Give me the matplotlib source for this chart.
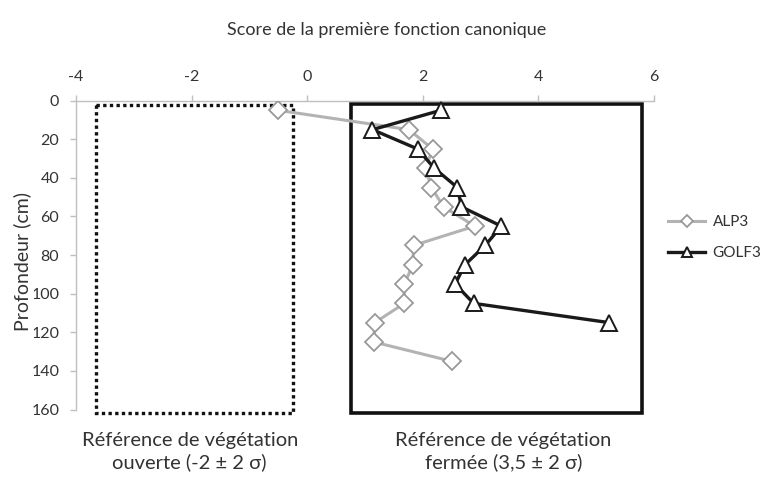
import matplotlib
matplotlib.use('Agg')
import matplotlib.pyplot as plt
from matplotlib.patches import Rectangle

plt.rcParams['font.family'] = ['Lato', 'DejaVu Sans']

# profondeurs (cm) et scores
depth_alp3 = [5, 15, 25, 35, 45, 55, 65, 75, 85, 95, 105, 115, 125, 135]
alp3 = [-0.5, 1.76, 2.17, 2.05, 2.15, 2.36, 2.9, 1.84, 1.83, 1.68, 1.68, 1.17, 1.15, 2.5]

depth_golf3 = [5, 15, 25, 35, 45, 55, 65, 75, 85, 95, 105, 115]
golf3 = [2.31, 1.13, 1.91, 2.2, 2.6, 2.67, 3.36, 3.08, 2.73, 2.56, 2.88, 5.23]

# cadres de reference (score min, score max, profondeur haut, profondeur bas)
ref_open = (-3.65, -0.25, 2, 162)
ref_closed = (0.76, 5.79, 1.5, 162)

xticks = [-4, -2, 0, 2, 4, 6]
yticks = [0, 20, 40, 60, 80, 100, 120, 140, 160]

fig = plt.figure(figsize=(7.62, 4.95), dpi=100)
ax = fig.add_axes([0.0997, 0.1727, 0.7585, 0.6239])

ax.plot(alp3, depth_alp3, color='#b3b3b3', lw=2.2, marker='D', ms=9.5,
        mfc='white', mec='#999999', mew=1.3, label='ALP3', zorder=3)
ax.plot(golf3, depth_golf3, color='#1a1a1a', lw=2.4, marker='^', ms=11.5,
        mfc='white', mec='#1a1a1a', mew=1.4, label='GOLF3', zorder=4)

x0, x1, y0, y1 = ref_open
ax.add_patch(Rectangle((x0, y0), x1 - x0, y1 - y0, fill=False, ec='#111111',
                       lw=2.4, ls=(0, (1, 1)), clip_on=False, zorder=2))
x0, x1, y0, y1 = ref_closed
ax.add_patch(Rectangle((x0, y0), x1 - x0, y1 - y0, fill=False, ec='#111111',
                       lw=2.6, clip_on=False, zorder=2))

ax.set_xlim(-4, 6)
ax.set_ylim(160, 0)
ax.xaxis.tick_top()
ax.set_xticks(xticks)
ax.set_xticklabels([str(v) for v in xticks])
ax.set_yticks(yticks)
ax.set_yticklabels([str(v) for v in yticks])
ax.tick_params(axis='both', colors='#bfbfbf', labelcolor='#333333',
               labelsize=11.5, length=4, width=1, direction='out')
ax.tick_params(axis='x', pad=8)
ax.tick_params(axis='y', pad=8)
for s in ['right', 'bottom']:
    ax.spines[s].set_visible(False)
for s in ['top', 'left']:
    ax.spines[s].set_color('#bfbfbf')
    ax.spines[s].set_linewidth(1)

# le libelle masque le "1" de 100 et 120 comme sur l'original
ax.set_ylabel('Profondeur (cm)', fontsize=14, color='#333333', va='center',
              ha='center', rotation_mode='anchor',
              bbox=dict(facecolor='white', edgecolor='none', pad=2))
ax.yaxis.set_label_coords(-0.093, 0.478)

fig.text(0.508, 0.94, 'Score de la première fonction canonique',
         ha='center', va='center', fontsize=13, color='#333333')

fig.text(0.249, 0.087, 'Référence de végétation\nouverte (-2 ± 2 σ)',
         ha='center', va='center', fontsize=14.5, color='#333333', linespacing=1.3)
fig.text(0.661, 0.087, 'Référence de végétation\nfermée (3,5 ± 2 σ)',
         ha='center', va='center', fontsize=14.5, color='#333333', linespacing=1.3)

leg = ax.legend(loc='center left', bbox_to_anchor=(0.877, 0.52),
                bbox_transform=fig.transFigure, frameon=False, fontsize=11,
                handlelength=2.4, handletextpad=0.5, labelspacing=1.1,
                markerscale=0.6, borderpad=0, borderaxespad=0)
for t in leg.get_texts():
    t.set_color('#333333')

fig.savefig('out.png', dpi=100)
